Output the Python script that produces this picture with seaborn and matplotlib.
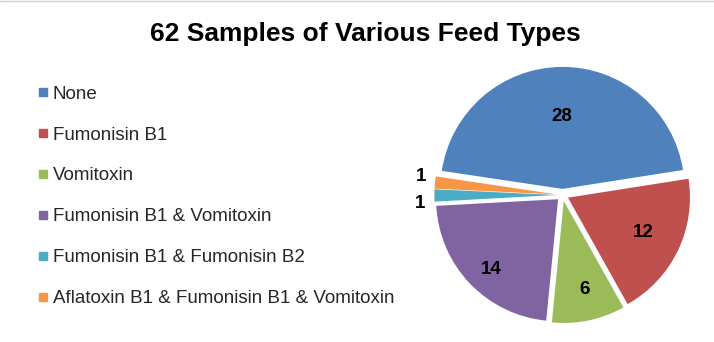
import numpy as np
import matplotlib
matplotlib.use("Agg")
import matplotlib.pyplot as plt
from matplotlib.lines import Line2D
import seaborn as sns

# Feed sample counts by detected mycotoxin combination
categories = [
    "None",
    "Fumonisin B1",
    "Vomitoxin",
    "Fumonisin B1 & Vomitoxin",
    "Fumonisin B1 & Fumonisin B2",
    "Aflatoxin B1 & Fumonisin B1 & Vomitoxin",
]
counts = [28, 12, 6, 14, 1, 1]
title = "62 Samples of Various Feed Types"

sns.set_theme(style="white")
plt.rcParams["font.family"] = ["Liberation Sans", "DejaVu Sans"]

colors = ["#4F81BD", "#C0504D", "#9BBB59", "#8064A2", "#4BACC6", "#F79646"]

W, H = 714, 342
fig = plt.figure(figsize=(W / 100, H / 100), dpi=100)
fig.patch.set_facecolor("white")

# pie axes: centre and radius in pixels
cx, cy, R = 562.5, 195.0, 122.0
lim = 1.3
side = 2 * lim * R
ax = fig.add_axes([(cx - side / 2) / W, 1 - (cy + side / 2) / H, side / W, side / H])

start = 171.5
explode_amt = 0.05
wedges, _ = ax.pie(
    counts,
    colors=colors,
    startangle=start,
    counterclock=False,
    explode=[explode_amt] * len(counts),
    radius=1.0,
    wedgeprops=dict(linewidth=0),
)
ax.set_xlim(-lim, lim)
ax.set_ylim(-lim, lim)
ax.set_aspect("equal")
ax.axis("off")

# value labels: slices run clockwise from the start angle
total = float(sum(counts))
cum = np.cumsum([0] + counts[:-1])
mids = start - 360.0 * (cum + np.array(counts) / 2.0) / total

# per-slice label radius and angle nudge (the two thin slices are labelled outside)
label_r = [0.59, 0.68, 0.75, 0.80, 1.12, 1.12]
label_da = [0, 1.2, 1.5, 2.5, 3.1, -1.9]
for m, v, r, da in zip(mids, counts, label_r, label_da):
    a = np.deg2rad(m + da)
    d = r + explode_amt
    ax.text(d * np.cos(a), d * np.sin(a), str(v), ha="center", va="center",
            fontsize=13.5, fontweight="bold", color="black")

fig.text(365 / W, 1 - 41 / H, title, ha="center", va="baseline",
         fontsize=19, fontweight="bold", color="black")

handles = [Line2D([], [], marker="s", linestyle="none", markersize=6,
                  markerfacecolor=c, markeredgecolor=c) for c in colors]
fig.legend(handles, categories, loc="upper left",
           bbox_to_anchor=(37 / W, 1 - 85.5 / H), frameon=False,
           fontsize=13.5, labelspacing=1.27, handlelength=0.6,
           handletextpad=0.25, borderpad=0, borderaxespad=0)

fig.add_artist(Line2D([0, 1], [1 - 0.5 / H, 1 - 0.5 / H], color="#d0d0d0",
                      lw=1, transform=fig.transFigure))

fig.savefig("out.png", dpi=100, facecolor="white")
